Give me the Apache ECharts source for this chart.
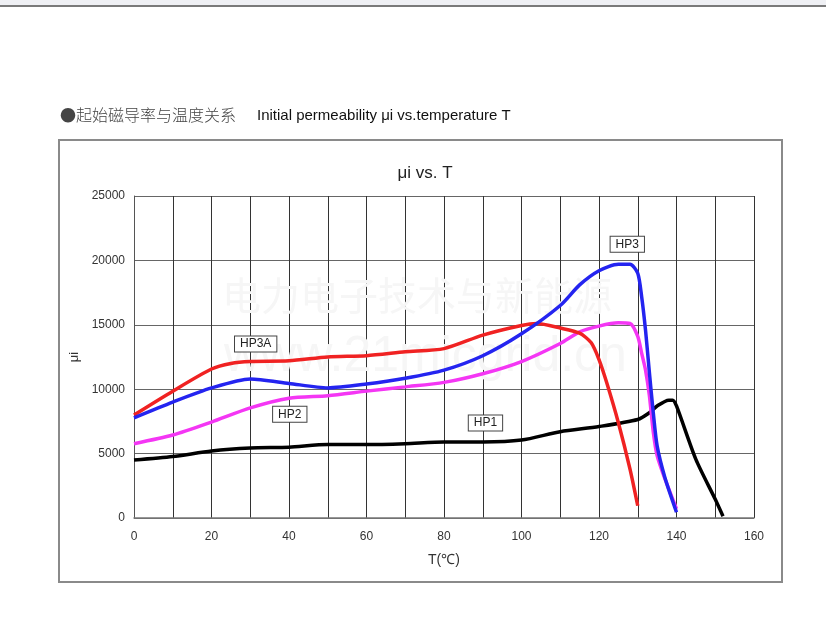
<!DOCTYPE html>
<html>
<head>
    <meta charset="utf-8">
    <title>μi vs. T</title>
    <script src="https://cdn.jsdelivr.net/npm/echarts@6/dist/echarts.min.js"></script>
    <style>
        html, body { margin: 0; padding: 0; background: #fff; }
        #chart { width: 826px; height: 629px; }
    </style>
</head>
<body>
<div id="chart"></div>
<script type="text/javascript">
// 数据：温度 T(℃) 与 起始磁导率 μi
var tempHP3A = [0, 10, 20, 25, 30, 40, 50, 60, 70, 80, 90, 100, 104, 110, 115, 118, 120, 122, 125, 128, 130];
var muHP3A   = [8000, 9850, 11570, 12000, 12150, 12200, 12500, 12600, 12900, 13150, 14200, 14950, 15100, 14750, 14350, 13600, 12300, 10500, 7400, 3800, 950];

var tempHP3 = [0, 10, 20, 30, 40, 50, 60, 70, 80, 90, 100, 110, 115, 120, 125, 128, 130, 131, 132, 133, 134, 135, 137, 140];
var muHP3   = [7780, 9000, 10100, 10800, 10450, 10100, 10400, 10850, 11480, 12600, 14300, 16500, 18100, 19200, 19700, 19700, 19000, 17200, 14600, 11300, 8200, 5600, 3150, 450];

var tempHP2 = [0, 10, 20, 30, 40, 50, 60, 70, 80, 90, 100, 110, 115, 120, 125, 128, 130, 131, 132, 133, 134, 135, 137, 140];
var muHP2   = [5770, 6440, 7450, 8550, 9300, 9500, 9850, 10180, 10530, 11200, 12150, 13550, 14450, 14900, 15150, 15100, 14100, 12800, 11500, 9500, 6700, 4850, 3050, 700];

var tempHP1 = [0, 10, 20, 30, 40, 50, 60, 70, 80, 90, 100, 110, 120, 130, 133, 135, 138, 139, 140, 145, 150, 152];
var muHP1   = [4500, 4770, 5200, 5430, 5500, 5700, 5700, 5770, 5900, 5900, 6050, 6700, 7100, 7650, 8170, 8700, 9150, 9150, 8700, 4550, 1450, 130];

var xTicks = [0, 20, 40, 60, 80, 100, 120, 140, 160];

// 标签位置 [T, μi]
var labelHP3A = [31.4, 13500];
var labelHP3  = [127.3, 21250];
var labelHP2  = [40.2, 8050];
var labelHP1  = [90.7, 7380];

function zip(xs, ys) {
    var out = [];
    for (var i = 0; i < xs.length; i++) {
        out.push([xs[i], ys[i]]);
    }
    return out;
}

function tag(name, coord) {
    return {
        silent: true,
        symbol: 'rect',
        symbolSize: 1,
        itemStyle: { color: 'transparent' },
        label: {
            show: true,
            position: 'inside',
            formatter: name,
            color: '#222',
            fontFamily: 'Liberation Sans',
            fontSize: 12,
            backgroundColor: '#fff',
            borderColor: '#444',
            borderWidth: 1,
            padding: [2, 5, 1, 5]
        },
        data: [{ coord: coord }]
    };
}

function line(name, color, data, coord) {
    return {
        name: name,
        type: 'line',
        data: data,
        smooth: 0.25,
        showSymbol: false,
        lineStyle: { color: color, width: 3.5 },
        itemStyle: { color: color },
        markPoint: tag(name, coord)
    };
}

var myChart = echarts.init(document.getElementById('chart'));

myChart.setOption({
    animation: false,
    backgroundColor: '#fff',
    title: {
        text: 'μi vs. T',
        left: 420,
        top: 160,
        textAlign: 'center',
        textStyle: {
            fontFamily: 'Liberation Sans',
            fontSize: 17,
            fontWeight: 'normal',
            color: '#222'
        }
    },
    graphic: [
        { type: 'rect', z: 0, shape: { x: 0, y: 0, width: 826, height: 6 }, style: { fill: '#eff0f4' } },
        { type: 'line', z: 0, shape: { x1: 0, y1: 6, x2: 826, y2: 6 }, style: { stroke: '#7a7a7a', lineWidth: 2 } },
        { type: 'rect', z: 0, shape: { x: 59, y: 140, width: 723, height: 442 }, style: { fill: 'none', stroke: '#8a8a8a', lineWidth: 2 } },
        {
            type: 'text', z: 1, left: 60, top: 107,
            style: {
                text: '●起始磁导率与温度关系',
                fontFamily: 'Noto Sans CJK SC',
                fontSize: 16,
                fontWeight: 300,
                fill: '#444'
            }
        },
        {
            type: 'text', z: 1, left: 257, top: 108,
            style: {
                text: 'Initial permeability μi vs.temperature T',
                fontFamily: 'Liberation Sans',
                fontSize: 15,
                fill: '#111'
            }
        },
        {
            type: 'text', z: 1, left: 222, top: 276,
            style: {
                text: '电力电子技术与新能源',
                fontFamily: 'Noto Sans CJK SC',
                fontSize: 39,
                fill: '#f6f6f6'
            }
        },
        {
            type: 'text', z: 1, left: 224, top: 332,
            style: {
                text: 'www.21micgrid.cn',
                fontFamily: 'Liberation Sans',
                fontSize: 50,
                fill: '#f6f6f6'
            }
        }
    ],
    grid: {
        left: 134,
        top: 196,
        width: 620,
        height: 322,
        show: false
    },
    xAxis: {
        type: 'value',
        min: 0,
        max: 160,
        interval: 10,
        name: 'T(℃)',
        nameLocation: 'middle',
        nameGap: 35,
        nameTextStyle: { fontFamily: 'Liberation Sans', fontSize: 14, color: '#333' },
        axisLine: { show: true, lineStyle: { color: '#777', width: 1.5 } },
        axisTick: { show: false },
        axisLabel: {
            margin: 13,
            fontFamily: 'Liberation Sans',
            fontSize: 12,
            color: '#333',
            formatter: function (v) { return xTicks.indexOf(v) >= 0 ? String(v) : ''; }
        },
        splitLine: { show: true, lineStyle: { color: '#333', width: 1 } }
    },
    yAxis: {
        type: 'value',
        min: 0,
        max: 25000,
        interval: 5000,
        name: 'μi',
        nameLocation: 'middle',
        nameGap: 52,
        nameRotate: 90,
        nameTextStyle: { fontFamily: 'Liberation Sans', fontSize: 13, color: '#333' },
        axisLine: { show: true, lineStyle: { color: '#555', width: 1 } },
        axisTick: { show: false },
        axisLabel: {
            margin: 9,
            fontFamily: 'Liberation Sans',
            fontSize: 12,
            color: '#333',
            formatter: function (v) { return String(v); }
        },
        splitLine: { show: true, lineStyle: { color: '#666', width: 1 } }
    },
    series: [
        line('HP1', '#000000', zip(tempHP1, muHP1), labelHP1),
        line('HP2', '#f436f4', zip(tempHP2, muHP2), labelHP2),
        line('HP3A', '#f02222', zip(tempHP3A, muHP3A), labelHP3A),
        line('HP3', '#2424f0', zip(tempHP3, muHP3), labelHP3)
    ]
});
</script>
</body>
</html>
